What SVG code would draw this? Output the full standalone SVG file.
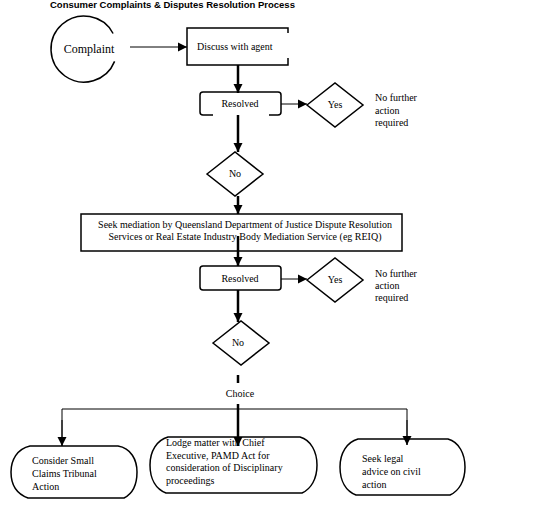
<svg xmlns="http://www.w3.org/2000/svg" width="560" height="526" viewBox="0 0 560 526">
<defs>
<marker id="ah" markerUnits="userSpaceOnUse" markerWidth="10" markerHeight="10" refX="9" refY="5" orient="auto">
<path d="M0,0.5 L9,5 L0,9.5 Z" fill="#000"/>
</marker>
<style>
text{font-family:"Liberation Serif","Times New Roman",serif;font-size:10px;fill:#000}
.title{font-family:"Liberation Sans",Arial,sans-serif;font-weight:bold;font-size:9.5px}
.c{text-anchor:middle}
.shape{fill:none;stroke:#000;stroke-width:1.5}
.thick{fill:none;stroke:#000;stroke-width:2.5}
.thin{fill:none;stroke:#000;stroke-width:1}
</style>
</defs>
<rect width="560" height="526" fill="#fff"/>
<text class="title" x="50" y="8">Consumer Complaints &amp; Disputes Resolution Process</text>

<g id="connectors">
<line class="thin" x1="130" y1="47" x2="187" y2="47" marker-end="url(#ah)"/>
<line class="thick" x1="238" y1="65" x2="238" y2="93" marker-end="url(#ah)"/>
<line class="thin" x1="281" y1="104" x2="307" y2="104" marker-end="url(#ah)"/>
<line class="thick" x1="238" y1="115" x2="238" y2="152" marker-end="url(#ah)"/>
<line class="thick" x1="238" y1="196" x2="238" y2="214" marker-end="url(#ah)"/>
<line class="thick" x1="238" y1="236" x2="238" y2="266" marker-end="url(#ah)"/>
<line class="thin" x1="281" y1="279" x2="307" y2="279" marker-end="url(#ah)"/>
<line class="thick" x1="238" y1="290" x2="238" y2="322" marker-end="url(#ah)"/>
<line class="thick" x1="238" y1="375" x2="238" y2="383"/>
<line class="thick" x1="238" y1="404" x2="238" y2="446" marker-end="url(#ah)"/>
<polyline class="thin" points="62,446 62,409 407,409 407,445"/>
<line class="thin" x1="62" y1="420" x2="62" y2="446" marker-end="url(#ah)"/>
<line class="thin" x1="407" y1="420" x2="407" y2="445" marker-end="url(#ah)"/>
</g>

<g id="complaint">
<path class="shape" d="M114.6,61.4 A33,33 0 1 1 113.1,33.5"/>
<text x="89" y="53" class="c" style="font-size:12px">Complaint</text>
</g>

<g id="discuss">
<path class="shape" d="M288,33 L288,28 L187,28 L187,65 L288,65 L288,58"/>
<text x="197" y="50">Discuss with agent</text>
</g>

<g id="resolved1">
<path class="shape" d="M213,115 L203,115 Q200,115 200,112 L200,95 Q200,92 203,92 L278,92 Q281,92 281,95 L281,112 Q281,115 278,115 L269,115"/>
<text x="240" y="107" class="c">Resolved</text>
</g>

<g id="yes1">
<polygon class="shape" points="307,105 335,83 363,105 335,127"/>
<text x="335" y="108" class="c">Yes</text>
</g>

<g id="nfa1">
<text x="375" y="101">No further</text>
<text x="375" y="114">action</text>
<text x="375" y="126">required</text>
</g>

<g id="no1">
<polygon class="shape" points="207,174 235,152 263,174 235,196"/>
<text x="235" y="177" class="c">No</text>
</g>

<g id="mediation">
<rect class="shape" x="81" y="214" width="321" height="37"/>
<text x="245" y="228" class="c">Seek mediation by Queensland Department of Justice Dispute Resolution</text>
<text x="245" y="240" class="c">Services or Real Estate Industry Body Mediation Service (eg REIQ)</text>
</g>

<g id="resolved2">
<rect class="shape" x="200" y="266" width="81" height="24" rx="3"/>
<text x="240" y="282" class="c">Resolved</text>
</g>

<g id="yes2">
<polygon class="shape" points="307,280 335,258 363,280 335,302"/>
<text x="335" y="283" class="c">Yes</text>
</g>

<g id="nfa2">
<text x="375" y="277">No further</text>
<text x="375" y="289">action</text>
<text x="375" y="301">required</text>
</g>

<g id="no2">
<polygon class="shape" points="213,343 241,321 269,343 241,365"/>
<text x="238" y="346" class="c">No</text>
</g>

<g id="choice">
<text x="240" y="397" class="c">Choice</text>
</g>

<g id="smallclaims">
<path class="shape" d="M30,446 L118,446 C131,448 137,460 137,472 C137,485 132,494 124,498 L28,498 C17,494 11,485 11,472 C11,460 17,449 30,446 Z"/>
<text x="32" y="464">Consider Small</text>
<text x="32" y="477">Claims Tribunal</text>
<text x="32" y="490">Action</text>
</g>

<g id="lodge">
<path class="shape" d="M168,437 L300,437 C311,440 317,452 317,465 C317,479 311,489 302,493 L166,493 C156,489 150,479 150,465 C150,451 157,440 168,437 Z"/>
<text x="166" y="446">Lodge matter with Chief</text>
<text x="166" y="458.5">Executive, PAMD Act for</text>
<text x="166" y="471">consideration of Disciplinary</text>
<text x="166" y="483.5">proceedings</text>
</g>

<g id="legal">
<path class="shape" d="M358,439 L448,439 C459,442 465,454 465,467 C465,481 459,491 450,495 L356,495 C346,491 340,481 340,467 C340,453 347,442 358,439 Z"/>
<text x="362" y="462">Seek legal</text>
<text x="362" y="475">advice on civil</text>
<text x="362" y="488">action</text>
</g>
</svg>
